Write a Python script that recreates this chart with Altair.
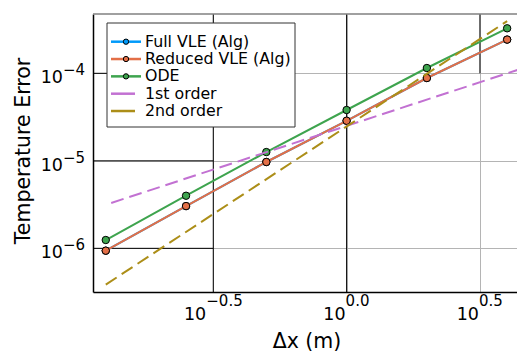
import altair as alt
import pandas as pd

# ---------------- data ----------------
dx = [0.125, 0.25, 0.5, 1.0, 2.0, 4.0]
full_vle = [9.4e-7, 3.04e-6, 9.7e-6, 2.87e-5, 8.84e-5, 2.43e-4]
reduced_vle = [9.4e-7, 3.04e-6, 9.7e-6, 2.87e-5, 8.84e-5, 2.43e-4]
ode = [1.245e-6, 3.99e-6, 1.26e-5, 3.81e-5, 1.15e-4, 3.27e-4]
first_x = [0.131, 4.4]
first_y = [3.3e-6, 1.1e-4]
second_x = [0.125, 4.0]
second_y = [3.85e-7, 3.95e-4]

series_names = ["Full VLE (Alg)", "Reduced VLE (Alg)", "ODE", "1st order", "2nd order"]
series_colors = ["#009AFA", "#E36F47", "#3EA44E", "#C271D2", "#AC8E18"]
series_marker = [True, True, True, False, False]

x_ticks = [10 ** -0.5, 1.0, 10 ** 0.5]
x_exps = ["\u22120.5", "0.0", "0.5"]
y_ticks = [1e-6, 1e-5, 1e-4]
y_exps = ["\u22126", "\u22125", "\u22124"]

x_title = "\u0394x (m)"
y_title = "Temperature Error"

# ---------------- layout / style ----------------
W, H = 424, 278
FONT = "DejaVu Sans"
xdom = [10 ** -0.951, 10 ** 0.639]
ydom = [10 ** -6.499, 10 ** -3.322]

xs = alt.Scale(type="log", domain=xdom, nice=False)
ys = alt.Scale(type="log", domain=ydom, nice=False)
xaxis = alt.Axis(values=x_ticks, labels=False, ticks=False, title=None, grid=True,
                 gridColor="#b4b4b4", gridWidth=1, domainColor="black", domainWidth=1.5)
yaxis = alt.Axis(values=y_ticks, labels=False, ticks=False, title=None, grid=True,
                 gridColor="#b4b4b4", gridWidth=1, domainColor="black", domainWidth=1.5)


def X(f):
    return alt.X(f, type="quantitative", scale=xs, axis=xaxis)


def Y(f):
    return alt.Y(f, type="quantitative", scale=ys, axis=yaxis)


one = pd.DataFrame({"a": [0]})
layers = []

# darker grid segments as in the reference
segs = pd.DataFrame({
    "x": [x_ticks[0], x_ticks[1], x_ticks[2], xdom[0], xdom[0], xdom[0]],
    "x2": [x_ticks[0], x_ticks[1], x_ticks[2], x_ticks[0], x_ticks[0], x_ticks[0]],
    "y": [ydom[0], ydom[0], y_ticks[2], y_ticks[0], y_ticks[1], y_ticks[2]],
    "y2": [ydom[1], ydom[1], ydom[1], y_ticks[0], y_ticks[1], y_ticks[2]],
})
layers.append(alt.Chart(segs).mark_rule(color="black", strokeWidth=1).encode(
    x=X("x"), x2="x2", y=Y("y"), y2="y2"))

# top frame line
layers.append(alt.Chart(one).mark_rule(color="#808080", strokeWidth=1.5).encode(
    x=alt.value(0), x2=alt.value(W), y=alt.value(0)))

# series
series_x = [dx, dx, dx, first_x, second_x]
series_y = [full_vle, reduced_vle, ode, first_y, second_y]
for name, col, mk, sx, sy in zip(series_names, series_colors, series_marker, series_x, series_y):
    df = pd.DataFrame({"dx": sx, "err": sy, "series": name})
    if mk:
        layers.append(alt.Chart(df).mark_line(color=col, strokeWidth=2, clip=True).encode(
            x=X("dx"), y=Y("err")))
        layers.append(alt.Chart(df).mark_point(filled=True, fill=col, stroke="black",
                                               strokeWidth=1, size=55, opacity=1).encode(
            x=X("dx"), y=Y("err")))
    else:
        layers.append(alt.Chart(df).mark_line(color=col, strokeWidth=2, strokeDash=[13, 6],
                                              clip=True).encode(x=X("dx"), y=Y("err")))

# tick labels (10 with superscript exponent)
x_dx = [-7, -1, -1]
for t, e, d in zip(x_ticks, x_exps, x_dx):
    df = pd.DataFrame({"t": [t]})
    layers.append(alt.Chart(df).mark_text(text="10", font=FONT, fontSize=17.5, align="right",
                                          baseline="alphabetic", dx=d, color="black").encode(
        x=X("t"), y=alt.value(H + 28)))
    layers.append(alt.Chart(df).mark_text(text=e, font=FONT, fontSize=15, align="left",
                                          baseline="alphabetic", dx=d, color="black").encode(
        x=X("t"), y=alt.value(H + 14)))
for t, e in zip(y_ticks, y_exps):
    df = pd.DataFrame({"t": [t]})
    layers.append(alt.Chart(df).mark_text(text="10", font=FONT, fontSize=17.5, align="right",
                                          baseline="alphabetic", dy=10, color="black").encode(
        x=alt.value(-30), y=Y("t")))
    layers.append(alt.Chart(df).mark_text(text=e, font=FONT, fontSize=15, align="right",
                                          baseline="alphabetic", dy=2, color="black").encode(
        x=alt.value(-8), y=Y("t")))

# axis titles
layers.append(alt.Chart(one).mark_text(text=x_title, font=FONT, fontSize=20.5, align="center",
                                       baseline="alphabetic", color="black").encode(
    x=alt.value(W / 2 + 2), y=alt.value(H + 55.5)))
layers.append(alt.Chart(one).mark_text(text=y_title, font=FONT, fontSize=20.5, align="center",
                                       baseline="alphabetic", angle=270, color="black").encode(
    x=alt.value(-63.5), y=alt.value(H / 2 - 2)))

# legend
layers.append(alt.Chart(one).mark_rect(fill="white", stroke="#333333", strokeWidth=1).encode(
    x=alt.value(14), x2=alt.value(202), y=alt.value(9), y2=alt.value(113)))
for i, (name, col, mk) in enumerate(zip(series_names, series_colors, series_marker)):
    yy = 27.7 + 17.33 * i
    layers.append(alt.Chart(one).mark_rule(color=col, strokeWidth=2.5).encode(
        x=alt.value(18), x2=alt.value(48 if mk else 42), y=alt.value(yy)))
    if mk:
        layers.append(alt.Chart(one).mark_point(filled=True, fill=col, stroke="black",
                                                strokeWidth=1, size=28, opacity=1).encode(
            x=alt.value(33), y=alt.value(yy)))
    layers.append(alt.Chart(one).mark_text(text=name, font=FONT, fontSize=15.8, align="left",
                                           baseline="middle", color="black").encode(
        x=alt.value(52), y=alt.value(yy)))

chart = alt.layer(*layers).properties(
    width=W, height=H,
    padding={"left": 93, "top": 14, "right": 0, "bottom": 59},
    autosize=alt.AutoSizeParams(type="none"),
    background="white",
).configure_view(stroke=None)

chart.save("out.html", embed_options={"renderer": "svg", "actions": False})
